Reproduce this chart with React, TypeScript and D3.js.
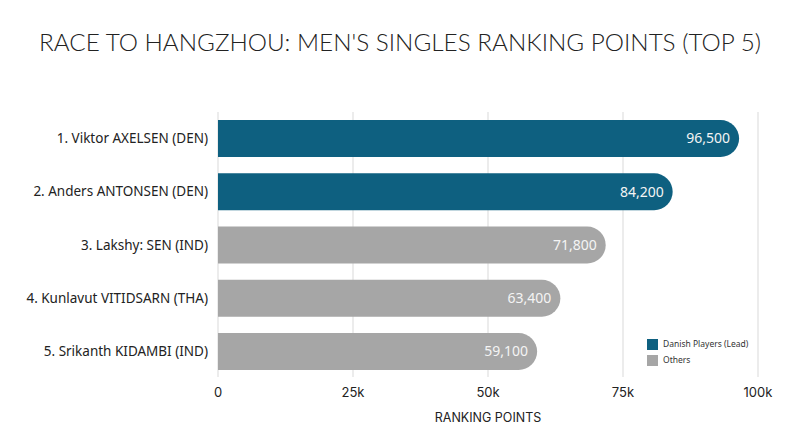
import React, { useEffect, useRef } from 'react';
import * as d3 from 'd3';

const players = [
  '1. Viktor AXELSEN (DEN)',
  '2. Anders ANTONSEN (DEN)',
  '3. Lakshy: SEN (IND)',
  '4. Kunlavut VITIDSARN (THA)',
  '5. Srikanth KIDAMBI (IND)',
];
const points = [96500, 84200, 71800, 63400, 59100];
const groups = ['Danish', 'Danish', 'Others', 'Others', 'Others'];
const xTicks = [0, 25000, 50000, 75000, 100000];
const legendItems = ['Danish Players (Lead)', 'Others'];

const colors: Record<string, string> = { Danish: '#0e6080', Others: '#a6a6a6' };

export default function App() {
  const svgRef = useRef<SVGSVGElement>(null);

  useEffect(() => {
    if (!svgRef.current) return;
    const root = d3.select(svgRef.current);
    root.selectAll('*').remove();

    const W = 800;
    const margin = { top: 112, left: 218, right: 42, bottom: 70 };
    const width = W - margin.left - margin.right;
    const height = 447 - margin.top - margin.bottom;

    // title
    root
      .append('text')
      .attr('x', 400)
      .attr('y', 51)
      .attr('text-anchor', 'middle')
      .attr('fill', '#222')
      .style('font-family', 'Lato, sans-serif')
      .style('font-size', '23px')
      .style('font-weight', 300)
      .attr('textLength', 722)
      .attr('lengthAdjust', 'spacingAndGlyphs')
      .text("RACE TO HANGZHOU: MEN'S SINGLES RANKING POINTS (TOP 5)");

    const g = root.append('g').attr('transform', `translate(${margin.left},${margin.top})`);

    const x = d3.scaleLinear().domain([0, 100000]).range([0, width]);
    const y = d3
      .scaleBand<string>()
      .domain(players)
      .range([8, 258])
      .paddingInner(0.305)
      .paddingOuter(0);

    // grid
    g.append('g')
      .selectAll('line')
      .data(xTicks)
      .join('line')
      .attr('x1', d => x(d))
      .attr('x2', d => x(d))
      .attr('y1', 0)
      .attr('y2', height)
      .attr('stroke', '#d9d9d9')
      .attr('stroke-width', 1);

    // tick labels
    g.append('g')
      .selectAll('text')
      .data(xTicks)
      .join('text')
      .attr('x', d => x(d))
      .attr('y', height + 20)
      .attr('text-anchor', 'middle')
      .attr('fill', '#222')
      .style('font-family', 'Inter, sans-serif')
      .style('font-size', '13px')
      .text(d => (d === 0 ? '0' : `${d / 1000}k`));

    g.append('text')
      .attr('x', width / 2)
      .attr('y', height + 45)
      .attr('text-anchor', 'middle')
      .attr('fill', '#222')
      .style('font-family', 'Inter, sans-serif')
      .style('font-size', '12.5px')
      .text('RANKING POINTS');

    // bars with rounded right end
    const bh = y.bandwidth();
    const r = bh / 2;
    const barPath = (w: number, h: number) =>
      `M0,0H${w - r}A${r},${r} 0 0 1 ${w - r},${h}H0Z`;

    const rows = players.map((p, i) => ({ p, v: points[i], grp: groups[i] }));

    g.append('g')
      .selectAll('path')
      .data(rows)
      .join('path')
      .attr('transform', d => `translate(0,${y(d.p)})`)
      .attr('d', d => barPath(x(d.v), bh))
      .attr('fill', d => colors[d.grp]);

    g.append('g')
      .selectAll('text')
      .data(rows)
      .join('text')
      .attr('x', d => x(d.v) - 9)
      .attr('y', d => (y(d.p) as number) + bh / 2)
      .attr('dy', '0.35em')
      .attr('text-anchor', 'end')
      .attr('fill', '#f4f4f4')
      .style('font-family', '"Noto Sans", sans-serif')
      .style('font-size', '14px')
      .text(d => d3.format(',')(d.v));

    // category labels
    g.append('g')
      .selectAll('text')
      .data(rows)
      .join('text')
      .attr('x', -10)
      .attr('y', d => (y(d.p) as number) + bh / 2)
      .attr('dy', '0.35em')
      .attr('text-anchor', 'end')
      .attr('fill', '#222')
      .style('font-family', '"Noto Sans", sans-serif')
      .style('font-size', '13.5px')
      .text(d => d.p);

    // legend
    const legend = root.append('g').attr('transform', 'translate(647,339)');
    legendItems.forEach((label, i) => {
      const row = legend.append('g').attr('transform', `translate(0,${i * 16})`);
      row
        .append('rect')
        .attr('width', 11)
        .attr('height', 11)
        .attr('fill', i === 0 ? colors.Danish : colors.Others);
      row
        .append('text')
        .attr('x', 16)
        .attr('y', 5.5)
        .attr('dy', '0.35em')
        .attr('fill', '#333')
        .style('font-family', '"Noto Sans", sans-serif')
        .style('font-size', '8.5px')
        .text(label);
    });
  }, []);

  return (
    <svg
      ref={svgRef}
      width={800}
      height={447}
      style={{ position: 'absolute', left: 0, top: 0, background: '#fff' }}
    />
  );
}
